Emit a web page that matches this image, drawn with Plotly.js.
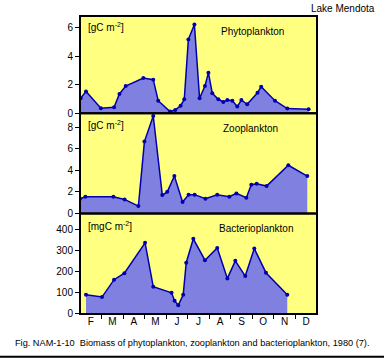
<!DOCTYPE html>
<html><head><meta charset="utf-8">
<script src="https://cdn.plot.ly/plotly-3.0.1.min.js"></script>
<style>html,body{margin:0;padding:0;background:#fff}#g{width:384px;height:358px}</style>
</head><body><div id="g"></div>
<script>
// x = months since 1 Feb 1980
const monthLabels = ['F','M','A','M','J','J','A','S','O','N','D'];
const phytoX = [0.03,0.28,0.97,1.58,1.83,2.12,2.94,3.40,3.63,4.18,4.42,4.67,4.84,5.03,5.31,5.55,5.80,5.96,6.14,6.42,6.65,6.84,7.07,7.30,7.49,7.76,8.24,8.41,9.05,9.62,10.61];
const phytoY = [1.05,1.53,0.35,0.42,1.35,1.9,2.47,2.35,0.88,0.12,0.23,0.53,0.98,5.16,6.2,1.05,1.9,2.84,1.4,0.98,0.79,0.93,0.88,0.47,0.93,0.63,1.44,1.86,0.88,0.33,0.28];
const zooX = [0,0.25,1.55,2.07,2.71,2.99,3.40,3.82,4.05,4.38,4.76,5.04,5.32,5.82,6.37,6.93,7.26,7.72,7.95,8.20,8.66,9.67,10.55];
const zooY = [1.36,1.55,1.55,1.30,0.68,6.67,9.05,1.7,2.0,3.47,1.05,1.74,1.74,1.36,1.74,1.55,1.86,1.46,2.67,2.76,2.54,4.47,3.47];
const bactX = [0.28,1.02,1.58,2.06,3.02,3.40,4.25,4.39,4.56,4.79,4.93,5.26,5.80,6.37,6.84,7.21,7.67,8.09,8.63,9.62];
const bactY = [91,80,162,193,336,129,100,63,41,91,242,355,254,312,168,251,179,309,195,91];

const lineC = '#0000B0', fillC = '#8080E0', bgC = '#FFFF80';
const font = {family:'Liberation Sans, Arial, sans-serif', size:10, color:'#000'};
const capFont = {family:'Liberation Sans, Arial, sans-serif', size:9.2, color:'#000'};
function tr(x,y,ya){return {x:x,y:y,yaxis:ya,xaxis:'x',type:'scatter',mode:'lines+markers',fill:'tozeroy',fillcolor:fillC,line:{color:lineC,width:1.5},marker:{color:lineC,size:4},hoverinfo:'none'};}
const data = [tr(phytoX,phytoY,'y'),tr(zooX,zooY,'y2'),tr(bactX,bactY,'y3')];
const midTicks = monthLabels.map((_,i)=>i+0.5);
const bounds = [1,2,3,4,5,6,7,8,9,10];
const yax = (dom,rng,dt)=>({domain:dom,range:rng,dtick:dt,tick0:0,ticks:'outside',ticklen:4,tickwidth:1,tickcolor:'#000',showgrid:false,zeroline:false,showline:false,tickfont:font,fixedrange:true});
const d1=[0.6735,1], d2=[0.3376,0.6735], d3=[0,0.3376];
const shapes = [];
['y','y2','y3'].forEach(a=>{shapes.push({type:'rect',xref:'paper',yref:a+' domain',x0:0,x1:1,y0:0,y1:1,line:{color:'#000',width:2},fillcolor:'rgba(0,0,0,0)'});});
shapes.push({type:'line',xref:'paper',yref:'paper',x0:-80/237,x1:1+67/237,y0:-0.1433,y1:-0.1433,line:{color:'#000',width:2}});
const ann = (x,y,ya,t,anchor)=>({xref:'x',yref:ya,x:x,y:y,text:t,showarrow:false,xanchor:anchor,yanchor:'middle',font:font});
const layout = {
  width:384,height:358,margin:{l:80,r:67,t:16,b:44},
  paper_bgcolor:'#fff',plot_bgcolor:bgC,showlegend:false,font:font,
  xaxis:{range:[0,11],anchor:'y3',tickvals:midTicks,ticktext:monthLabels,ticks:'',tickfont:font,showgrid:false,zeroline:false,showline:false,fixedrange:true,
         minor:{tickvals:bounds,ticks:'outside',ticklen:4,tickwidth:1,tickcolor:'#000',showgrid:false}},
  yaxis:yax(d1,[0,6.8],2),
  yaxis2:yax(d2,[0,9.3],2),
  yaxis3:yax(d3,[0,475],100),
  shapes:shapes,
  annotations:[
    ann(0.3,6.0,'y','[gC m<sup>-2</sup>]','left'),
    ann(8.0,5.7,'y','Phytoplankton','center'),
    ann(0.3,8.2,'y2','[gC m<sup>-2</sup>]','left'),
    ann(7.9,7.9,'y2','Zooplankton','center'),
    ann(0.3,415,'y3','[mgC m<sup>-2</sup>]','left'),
    ann(8.2,405,'y3','Bacterioplankton','center'),
    {xref:'paper',yref:'paper',x:1+60/237,y:1+8/298,text:'Lake Mendota',showarrow:false,xanchor:'right',yanchor:'middle',font:font},
    {xref:'paper',yref:'paper',x:(192-80)/237,y:-(342.7-314)/298,text:'Fig. NAM-1-10  Biomass of phytoplankton, zooplankton and bacterioplankton, 1980 (7).',showarrow:false,xanchor:'center',yanchor:'middle',font:capFont}
  ]
};
Plotly.newPlot('g',data,layout,{staticPlot:true,displayModeBar:false});
</script></body></html>
